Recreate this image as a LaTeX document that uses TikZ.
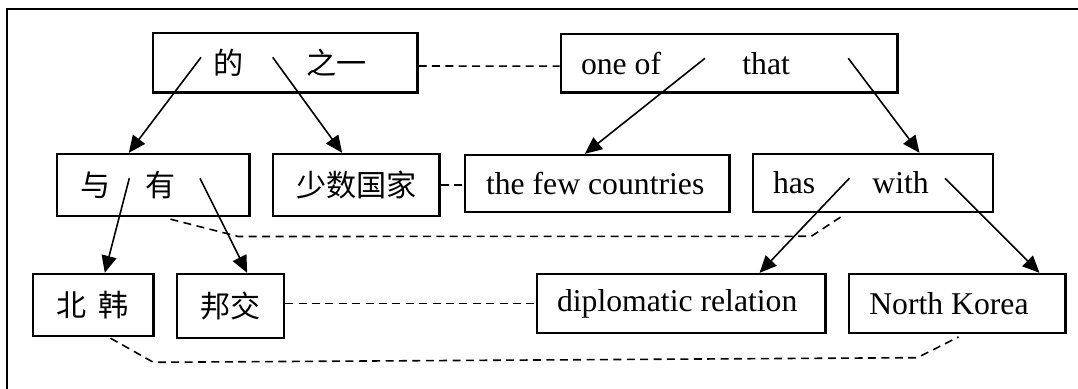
\documentclass[tikz,border=0pt]{standalone}
\usepackage{fontspec}
\setmainfont{Liberation Serif}
\newfontfamily\cjk{Noto Sans CJK SC}[Scale=0.95]
\usetikzlibrary{arrows.meta}
\newlength\pxu
\setlength\pxu{0.5pt}
\newcommand\boxtext[3]{\makebox[#1\pxu][l]{\hspace*{#2\pxu}#3}}

\begin{document}
\begin{tikzpicture}[x=0.5pt,y=-0.5pt,
    box/.style={draw,line width=1.2pt,inner xsep=0pt,minimum height=#1\pxu},
    arr/.style={-{Triangle[length=8.5pt,width=7.5pt]},line width=0.8pt},
    link/.style={dash pattern=on 4pt off 2.7pt,line width=0.8pt},
    font=\fontsize{15.85}{19}\selectfont]
      \useasboundingbox (0,0) rectangle (1078,389);
      \draw[line width=1pt] (1078,9.3) -- (7.3,9.3) -- (7.3,389);

      \node[box=59.4] (de) at (285,63) {\boxtext{264.6}{60.8}{\cjk 的\hspace{63\pxu}之一}};
      \node[box=58.3] (oneof) at (729,63.2) {\boxtext{336.6}{20.3}{one of\hspace{81.3\pxu}that}};
      \node[box=62] (yu) at (153,185) {\boxtext{192.6}{23.5}{\cjk 与\hspace{35\pxu}有}};
      \node[box=62] (few) at (356,185) {\boxtext{166.6}{23.5}{\cjk 少数国家}};
      \node[box=57] (fewc) at (597.2,183.5) {\boxtext{264.3}{21}{the few countries}};
      \node[box=58] (has) at (872.7,183) {\boxtext{240}{20.3}{has\hspace{57.2\pxu}with}};
      \node[box=62] (bh) at (93,305) {\boxtext{120.6}{24}{\cjk 北\hspace{11.7\pxu}韩}};
      \node[box=63.7] (bj) at (230.4,305.9) {\boxtext{107.3}{23.5}{\cjk 邦交}};
      \node[box=58.7] (dr) at (681.2,303.4) {\boxtext{288.3}{20}{diplomatic relation}};
      \node[box=58.7] (nk) at (957,303.4) {\boxtext{216.6}{20.6}{North Korea}};

      \coordinate (de1) at (201,57.3);
      \coordinate (de2) at (272.7,57.3);
      \coordinate (one1) at (705,58.3);
      \coordinate (one2) at (848.3,58.3);
      \coordinate (yu1) at (129.3,178.3);
      \coordinate (yu2) at (200,178.3);
      \coordinate (has1) at (849.3,178.3);
      \coordinate (has2) at (945,178.3);

      \draw[arr] (de1) -- ([xshift=73.3\pxu]yu.north west);
      \draw[arr] (de2) -- ([xshift=70.6\pxu]few.north west);
      \draw[arr] (one1) -- ([xshift=121\pxu]fewc.north west);
      \draw[arr] (one2) -- ([xshift=168\pxu]has.north west);
      \draw[arr] (yu1) -- ([xshift=73.3\pxu]bh.north west);
      \draw[arr] (yu2) -- ([xshift=71.6\pxu]bj.north west);
      \draw[arr] (has1) -- ([xshift=223.7\pxu]dr.north west);
      \draw[arr] (has2) -- ([xshift=192\pxu]nk.north west);

      \draw[link] ([yshift=-3\pxu]de.east) -- ([yshift=-3\pxu]oneof.west);
      \draw[link] (few.east) -- (few.east -| fewc.west);
      \draw[link] (dr.west -| bj.east) -- (dr.west);
      \draw[link] ([xshift=115\pxu,yshift=-2\pxu]yu.south west) -- (238.3,236.5)
        -- (811.3,236.3) -- ([xshift=92\pxu,yshift=-2\pxu]has.south west);
      \draw[link] ([xshift=79\pxu,yshift=-1\pxu]bh.south west) -- (153.3,362.3)
        -- (917.3,357.7) -- ([xshift=111\pxu,yshift=-3\pxu]nk.south west);
    \end{tikzpicture}
\end{document}
